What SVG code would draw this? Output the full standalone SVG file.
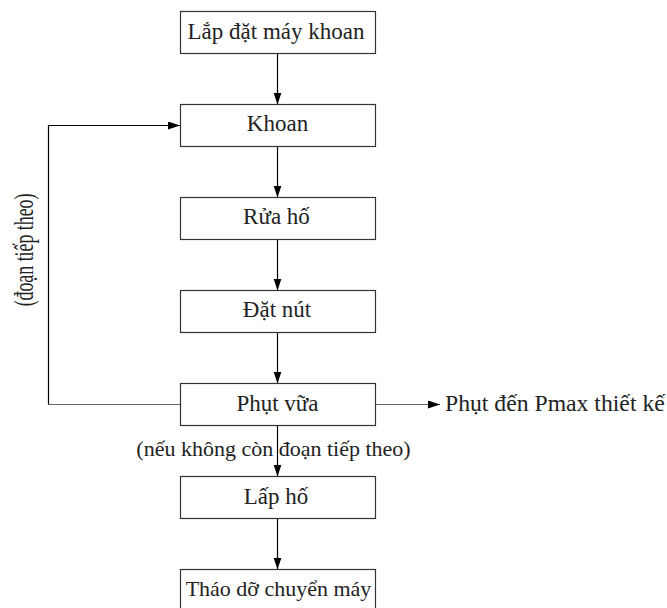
<svg xmlns="http://www.w3.org/2000/svg" width="667" height="608" viewBox="0 0 667 608">
<style>
.box{fill:#fff;stroke:#333;stroke-width:1.2}
.t{font-family:"Liberation Serif","Times New Roman",serif;font-size:23px;fill:#222}
.c{text-anchor:middle}
.ln{fill:none;stroke:#000;stroke-width:1.2}
.gr{fill:none;stroke:#666;stroke-width:1.2}
</style>
<defs>
<marker id="ah" markerUnits="userSpaceOnUse" markerWidth="13" markerHeight="9" refX="12" refY="4" orient="auto">
<path d="M0,0 L12,4 L0,8 z" fill="#000"/>
</marker>
</defs>
<g id="connectors">
<line class="ln" x1="277.5" y1="53.5" x2="277.5" y2="104.5" marker-end="url(#ah)"/>
<line class="ln" x1="277.5" y1="146.5" x2="277.5" y2="197.5" marker-end="url(#ah)"/>
<line class="ln" x1="277.5" y1="239.5" x2="277.5" y2="290.5" marker-end="url(#ah)"/>
<line class="ln" x1="277.5" y1="332.5" x2="277.5" y2="383.5" marker-end="url(#ah)"/>
<line class="ln" x1="277.5" y1="425.5" x2="277.5" y2="476.5" marker-end="url(#ah)"/>
<line class="ln" x1="277.5" y1="518.5" x2="277.5" y2="569.5" marker-end="url(#ah)"/>
<line class="gr" x1="180" y1="404.5" x2="48.5" y2="404.5"/>
<polyline class="ln" points="48.5,404.5 48.5,125.5 180,125.5" marker-end="url(#ah)"/>
<line class="gr" x1="375" y1="404.5" x2="440" y2="404.5" marker-end="url(#ah)"/>
</g>
<g id="n1"><rect class="box" x="180.5" y="11.5" width="195" height="42"/><text class="t c" x="276" y="38.5">Lắp đặt máy khoan</text></g>
<g id="n2"><rect class="box" x="180.5" y="104.5" width="195" height="42"/><text class="t c" x="277.5" y="131">Khoan</text></g>
<g id="n3"><rect class="box" x="180.5" y="197.5" width="195" height="42"/><text class="t c" x="276.5" y="224">Rửa hố</text></g>
<g id="n4"><rect class="box" x="180.5" y="290.5" width="195" height="42"/><text class="t c" x="277" y="317">Đặt nút</text></g>
<g id="n5"><rect class="box" x="180.5" y="383.5" width="195" height="42"/><text class="t c" x="277.5" y="410.5">Phụt vữa</text></g>
<g id="n6"><rect class="box" x="180.5" y="476.5" width="195" height="42"/><text class="t c" x="276" y="503.5">Lấp hố</text></g>
<g id="n7"><rect class="box" x="180.5" y="569.5" width="195" height="42"/><text class="t c" x="278.5" y="596" style="font-size:22px">Tháo dỡ chuyển máy</text></g>
<g id="labels">
<text class="t" x="445" y="410.5" style="font-size:23.7px">Phụt đến Pmax thiết kế</text>
<text class="t c" x="273.5" y="455.5" style="font-size:22px">(nếu không còn đoạn tiếp theo)</text>
<text class="t c" transform="translate(33,250) rotate(-90) scale(0.66,1)" style="font-size:27px">(đoạn tiếp theo)</text>
</g>
</svg>
